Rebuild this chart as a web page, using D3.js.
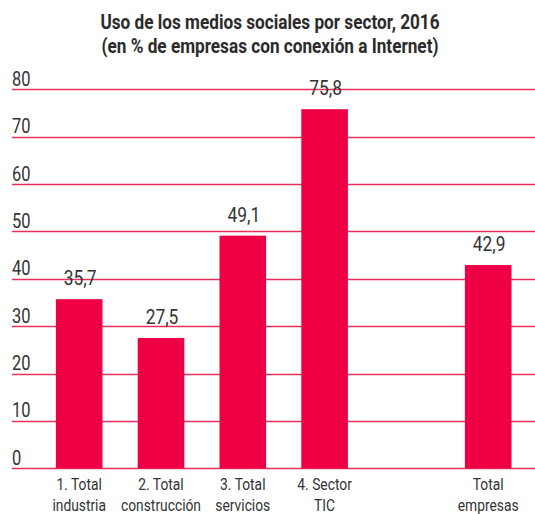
<!DOCTYPE html>
<html><head><meta charset="utf-8">
<script src="https://cdn.jsdelivr.net/npm/d3@7"></script>
<style>
body{margin:0;background:#fff;}
text{font-family:Roboto,"Noto Sans",sans-serif;}
</style></head>
<body><svg id="c" width="535" height="514"></svg>
<script>
const titleLines = ["Uso de los medios sociales por sector, 2016", "(en % de empresas con conexión a Internet)"];
const categories = ["1. Total|industria", "2. Total|construcción", "3. Total|servicios", "4. Sector|TIC", "", "Total|empresas"];
const values = [35.7, 27.5, 49.1, 75.8, null, 42.9];
const valueLabels = ["35,7", "27,5", "49,1", "75,8", "", "42,9"];
const yTicks = [0, 10, 20, 30, 40, 50, 60, 70, 80];

const svg = d3.select("#c");
const barColor = "#ef0044", gridColor = "#e8305c", textColor = "#333";

const y = d3.scaleLinear().domain([0, 80]).range([468.3, 89.3]);
const x = d3.scaleBand().domain(d3.range(categories.length)).range([38.3, 529.1]).paddingInner(0.43).paddingOuter(0.215);

function condense(sel, k) {
  sel.each(function(){
    const w = this.getComputedTextLength();
    this.setAttribute("textLength", (w * k).toFixed(2));
    this.setAttribute("lengthAdjust", "spacingAndGlyphs");
  });
}
function factorFor(size, weight, str, target) {
  const t = svg.append("text").attr("font-size", size).attr("font-weight", weight).text(str);
  const w = t.node().getComputedTextLength();
  t.remove();
  return target / w;
}

// title
const title = svg.append("g").selectAll("text").data(titleLines).join("text")
  .attr("x", 270).attr("y", (d, i) => 28.5 + i * 24)
  .attr("text-anchor", "middle").attr("font-weight", "bold").attr("font-size", 20.5)
  .attr("fill", "#2b2b2b").text(d => d);
condense(title, factorFor(20.5, "bold", titleLines[1], 337));

// grid
const grid = svg.append("g");
grid.selectAll("line").data(yTicks).join("line")
  .attr("x1", 12).attr("x2", 535)
  .attr("y1", d => Math.round(y(d)) + 0.5).attr("y2", d => Math.round(y(d)) + 0.5)
  .attr("stroke", gridColor).attr("stroke-width", 1.5);
const tickText = grid.selectAll("text").data(yTicks).join("text")
  .attr("x", 12).attr("y", d => y(d) - 3.5)
  .attr("font-size", 19.5).attr("fill", textColor).text(d => d);
condense(tickText, factorFor(19.5, 400, "80", 18.5));

// bars
const idx = d3.range(categories.length).filter(i => values[i] != null);
svg.append("g").selectAll("rect").data(idx).join("rect")
  .attr("x", i => x(i)).attr("width", x.bandwidth())
  .attr("y", i => y(values[i])).attr("height", i => y(0) - y(values[i]))
  .attr("fill", barColor);

// value labels
const valText = svg.append("g").selectAll("text").data(idx).join("text")
  .attr("x", i => x(i) + x.bandwidth() / 2 + 1).attr("y", i => y(values[i]) - 14)
  .attr("text-anchor", "middle").attr("font-size", 20).attr("fill", textColor)
  .text(i => valueLabels[i]);
condense(valText, factorFor(20, 400, "75,8", 32.7));

// category labels
const cg = svg.append("g").selectAll("g").data(idx).join("g");
const catText = cg.selectAll("text").data(i => categories[i].split("|").map(t => ({t, i}))).join("text")
  .attr("x", d => x(d.i) + x.bandwidth() / 2).attr("y", (d, k) => 489.5 + k * 21)
  .attr("text-anchor", "middle").attr("font-size", 17).attr("fill", textColor)
  .text(d => d.t);
condense(catText, factorFor(17, 400, "construcción", 80));
</script></body></html>
